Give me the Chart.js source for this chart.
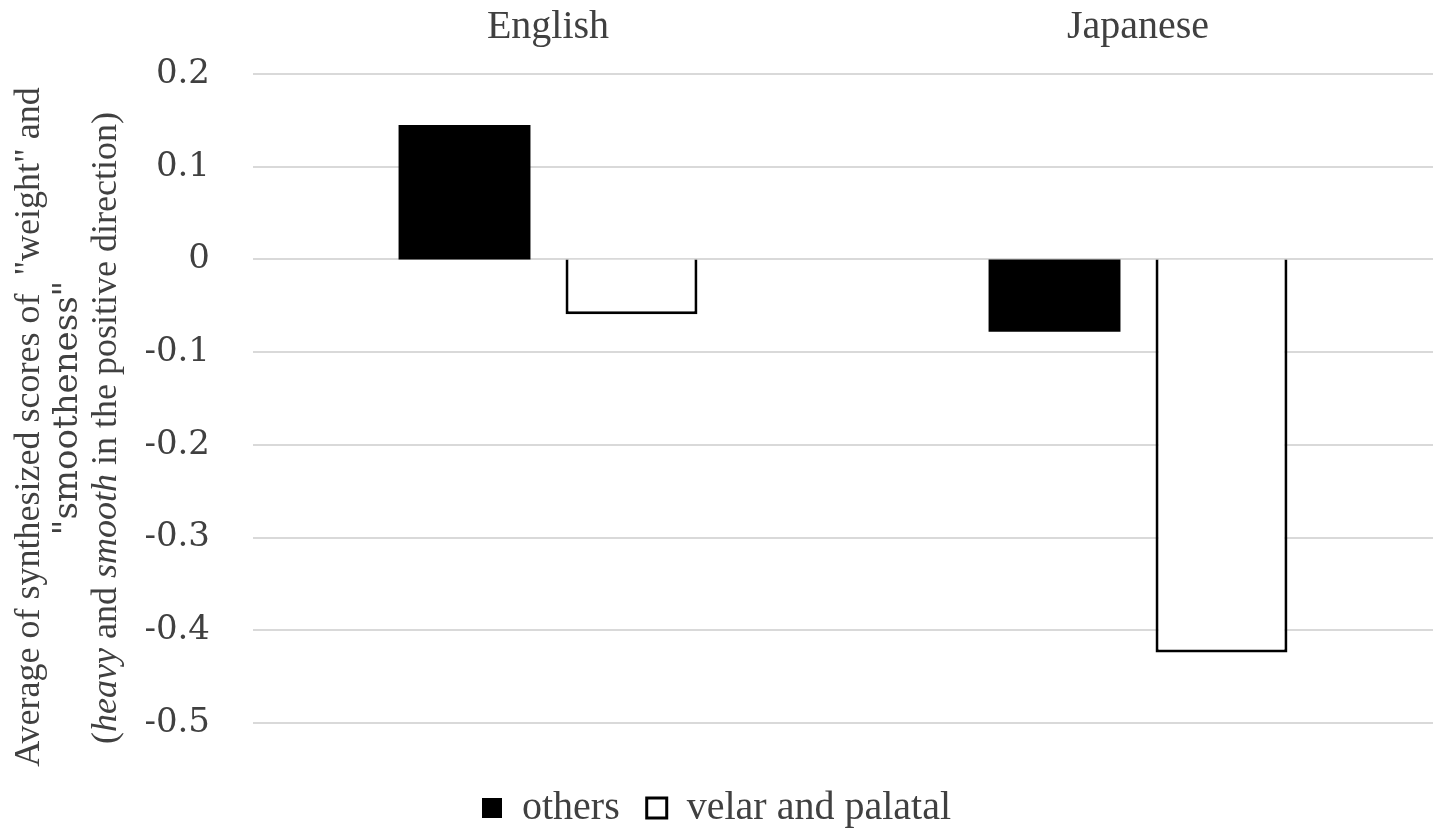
<!DOCTYPE html>
<html>
<head>
<meta charset="utf-8">
<script src="https://cdn.jsdelivr.net/npm/chart.js@4.4.0/dist/chart.umd.min.js"></script>
<style>
  body { margin: 0; background: #fff; overflow: hidden; }
  #wrap { width: 1439px; height: 838px; }
</style>
</head>
<body>
<div id="wrap"><canvas id="grafico"></canvas></div>
<script>
const categorias = ['English', 'Japanese'];
const outros = [0.145, -0.078];
const velarPalatal = [-0.059, -0.424];
const nomesSeries = ['others', 'velar and palatal'];
const yMin = -0.5;
const yMax = 0.2;
const yPasso = 0.1;

const fonte = 'Liberation Serif, Times New Roman, serif';
const fonteNum = 'DejaVu Serif, serif';
const corTexto = '#404040';

// titulo do eixo y desenhado a mao por causa do italico misturado
const tituloY = {
    id: 'tituloY',
    afterDraw(chart) {
        const c = chart.ctx;
        c.save();
        c.fillStyle = corTexto;
        c.textBaseline = 'middle';
        c.textAlign = 'left';
        const linhas = [
            { x: 30, y: 427, f: '36px ' + fonte, partes: [['Average of synthesized scores of  "weight" and', false]] },
            { x: 68, y: 408, f: '34px ' + fonteNum, partes: [['"smootheness"', false]] },
            { x: 107, y: 428, f: '36px ' + fonte, partes: [['(', false], ['heavy', true], [' and ', false], ['smooth', true], [' in the positive direction)', false]] }
        ];
        linhas.forEach(l => {
            let total = 0;
            l.partes.forEach(p => {
                c.font = (p[1] ? 'italic ' : '') + l.f;
                total += c.measureText(p[0]).width;
            });
            c.save();
            c.translate(l.x, l.y);
            c.rotate(-Math.PI / 2);
            let pos = -total / 2;
            l.partes.forEach(p => {
                c.font = (p[1] ? 'italic ' : '') + l.f;
                c.fillText(p[0], pos, 0);
                pos += c.measureText(p[0]).width;
            });
            c.restore();
        });
        c.restore();
    }
};

new Chart(document.getElementById('grafico'), {
    type: 'bar',
    data: {
        labels: categorias,
        datasets: [{
            label: nomesSeries[0],
            data: outros,
            backgroundColor: '#000000',
            borderColor: '#000000',
            borderWidth: 0
        }, {
            label: nomesSeries[1],
            data: velarPalatal,
            backgroundColor: '#ffffff',
            borderColor: '#000000',
            borderWidth: 3
        }]
    },
    options: {
        responsive: true,
        maintainAspectRatio: false,
        animation: false,
        categoryPercentage: 0.566,
        barPercentage: 0.79,
        layout: { padding: { left: 0, right: 6, top: 0, bottom: 0 } },
        scales: {
            x: {
                position: 'top',
                grid: { display: false },
                border: { display: false },
                ticks: { color: corTexto, font: { family: fonte, size: 40 }, padding: 15 },
                afterFit: s => { s.height = 74; }
            },
            y: {
                min: yMin,
                max: yMax,
                grid: { color: '#d9d9d9', lineWidth: 2, drawTicks: false },
                border: { display: false },
                ticks: {
                    stepSize: yPasso,
                    color: corTexto,
                    padding: 43,
                    font: { family: fonteNum, size: 34 },
                    callback: v => Math.abs(v) < 1e-9 ? '0' : v.toFixed(1)
                },
                afterFit: s => { s.width = 253; }
            }
        },
        plugins: {
            legend: {
                position: 'bottom',
                // titulo vazio so para empurrar a legenda para baixo
                title: { display: true, text: '', font: { size: 10, lineHeight: 1 }, padding: { top: 28, bottom: 0 } },
                labels: {
                    color: corTexto,
                    font: { family: fonte, size: 40 },
                    boxWidth: 20,
                    boxHeight: 20,
                    padding: 27
                }
            },
            tooltip: { enabled: false }
        }
    },
    plugins: [tituloY]
});
</script>
</body>
</html>
